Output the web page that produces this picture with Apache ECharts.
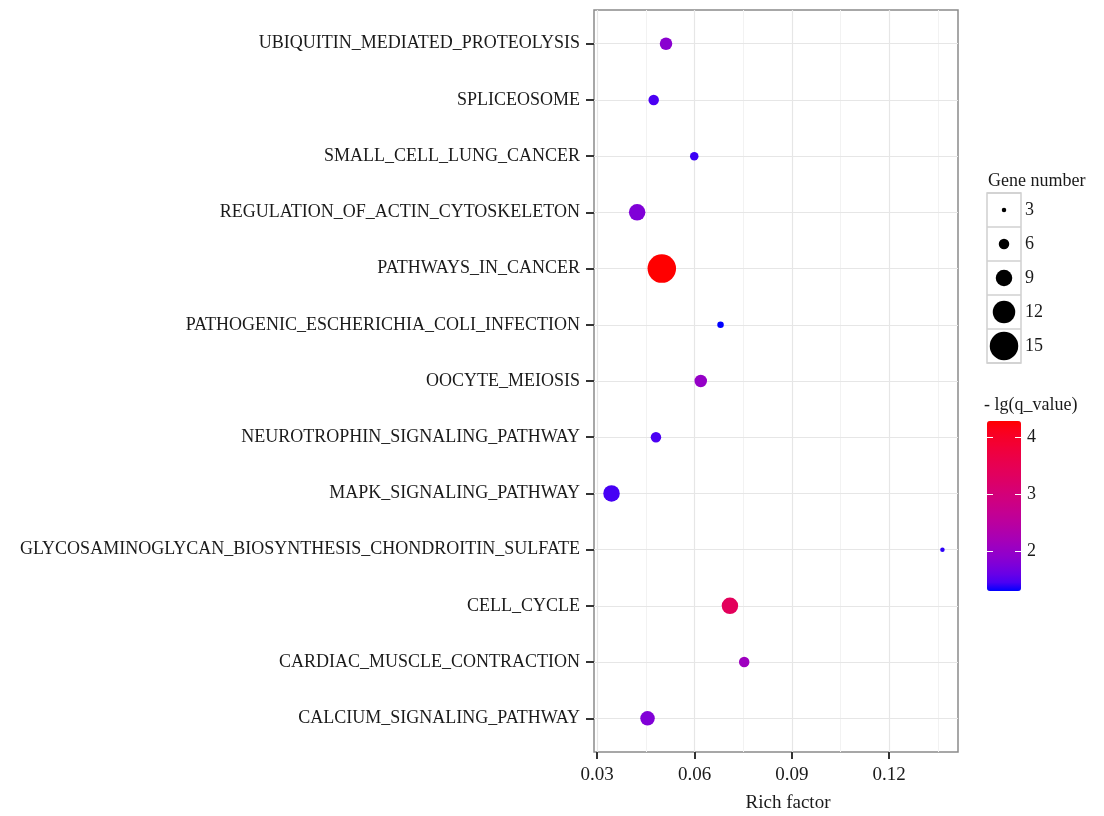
<!DOCTYPE html>
<html><head><meta charset="utf-8">
<script src="https://cdn.jsdelivr.net/npm/echarts@6/dist/echarts.min.js"></script>
<style>html,body{margin:0;padding:0;background:#fff}#c{width:1104px;height:816px}</style>
</head><body><div id="c"></div>
<script>
// ---- data (bottom row first) ----
const categories = [
  'CALCIUM_SIGNALING_PATHWAY',
  'CARDIAC_MUSCLE_CONTRACTION',
  'CELL_CYCLE',
  'GLYCOSAMINOGLYCAN_BIOSYNTHESIS_CHONDROITIN_SULFATE',
  'MAPK_SIGNALING_PATHWAY',
  'NEUROTROPHIN_SIGNALING_PATHWAY',
  'OOCYTE_MEIOSIS',
  'PATHOGENIC_ESCHERICHIA_COLI_INFECTION',
  'PATHWAYS_IN_CANCER',
  'REGULATION_OF_ACTIN_CYTOSKELETON',
  'SMALL_CELL_LUNG_CANCER',
  'SPLICEOSOME',
  'UBIQUITIN_MEDIATED_PROTEOLYSIS'
];
const richFactor = [0.0455, 0.0753, 0.0709, 0.1364, 0.0344, 0.0481, 0.0619, 0.0680, 0.0499, 0.0423, 0.0599, 0.0474, 0.0512];
const geneNumber = [8, 6, 9, 3, 9, 6, 7, 4, 15, 9, 5, 6, 7];
const negLogQ    = [1.80, 2.10, 3.40, 1.40, 1.45, 1.46, 2.00, 1.31, 4.29, 1.79, 1.43, 1.46, 1.88];

const xTicks = [0.03, 0.06, 0.09, 0.12];
const xMinorTicks = [0.045, 0.075, 0.105, 0.135];
const sizeBreaks = [3, 6, 9, 12, 15];
const colorTicks = [2, 3, 4];
const X_MIN = 0.0290, X_MAX = 0.1412;

// ---- helpers (styling) ----
const FONT = 'Liberation Serif';
const TXT = '#1a1a1a';
function sizeOf(n) { return 2 * n - 1.5; }
function s2l(c){c/=255;return c<=0.04045?c/12.92:Math.pow((c+0.055)/1.055,2.4);}
function l2s(c){c=c<=0.0031308?12.92*c:1.055*Math.pow(c,1/2.4)-0.055;return Math.round(Math.max(0,Math.min(1,c))*255);}
function rgb2lab(r,g,b){r=s2l(r);g=s2l(g);b=s2l(b);
  let X=(0.4124*r+0.3576*g+0.1805*b)/0.95047,Y=(0.2126*r+0.7152*g+0.0722*b),Z=(0.0193*r+0.1192*g+0.9505*b)/1.08883;
  const f=t=>t>0.008856?Math.cbrt(t):7.787*t+16/116;
  const fx=f(X),fy=f(Y),fz=f(Z);return [116*fy-16,500*(fx-fy),200*(fy-fz)];}
function lab2rgb(L,a,b){const fy=(L+16)/116,fx=fy+a/500,fz=fy-b/200;
  const fi=t=>t*t*t>0.008856?t*t*t:(t-16/116)/7.787;
  const X=fi(fx)*0.95047,Y=fi(fy),Z=fi(fz)*1.08883;
  const r=3.2406*X-1.5372*Y-0.4986*Z,g=-0.9689*X+1.8758*Y+0.0415*Z,bb=0.0557*X-0.2040*Y+1.0570*Z;
  return 'rgb('+l2s(r)+','+l2s(g)+','+l2s(bb)+')';}
const labLo = rgb2lab(0,0,255), labHi = rgb2lab(255,0,0);
const stops = [];
for (let i = 0; i <= 20; i++) { const t = i/20;
  stops.push(lab2rgb(labLo[0]+(labHi[0]-labLo[0])*t, labLo[1]+(labHi[1]-labLo[1])*t, labLo[2]+(labHi[2]-labLo[2])*t)); }

const qMin = Math.min(...negLogQ), qMax = Math.max(...negLogQ);
const rowIdx = categories.map((c, i) => i + 1);
const points = categories.map((c, i) => [richFactor[i], rowIdx[i], geneNumber[i], negLogQ[i], c]);

const chart = echarts.init(document.getElementById('c'), null, {renderer: 'canvas'});
chart.setOption({
  animation: false,
  backgroundColor: '#fff',
  textStyle: {fontFamily: FONT},
  grid: [
    {left: 594, top: 10, width: 364, height: 742, show: true, borderColor: '#8a8a8a', borderWidth: 1.5, backgroundColor: '#fff', outerBoundsMode: 'none', containLabel: false},
    {left: 594, top: 10, width: 364, height: 742, show: false, outerBoundsMode: 'none', containLabel: false},
    {left: 987, top: 421, width: 34, height: 170, show: false, outerBoundsMode: 'none', containLabel: false},
    {left: 987, top: 193, width: 34, height: 170, show: true, borderColor: '#d0d0d0', borderWidth: 1.5, outerBoundsMode: 'none', containLabel: false}
  ],
  xAxis: [
    {gridIndex: 0, type: 'value', min: X_MIN, max: X_MAX, position: 'bottom',
     name: 'Rich factor', nameLocation: 'middle', nameGap: 42,
     nameTextStyle: {fontFamily: FONT, fontSize: 19, color: TXT, padding: [0, 0, 0, 24]},
     axisLine: {show: false},
     axisTick: {show: true, length: 7, lineStyle: {color: '#333', width: 2}, customValues: xTicks},
     axisLabel: {fontFamily: FONT, fontSize: 19, color: TXT, margin: 14, customValues: xTicks,
                 formatter: v => String(Math.round(v * 100) / 100)},
     splitLine: {show: true, lineStyle: {color: '#e6e6e6', width: 1.2}}, z: 3},
    {gridIndex: 0, type: 'value', min: X_MIN, max: X_MAX, position: 'top',
     axisLine: {show: false}, axisLabel: {show: false, customValues: xMinorTicks},
     axisTick: {show: false, customValues: xMinorTicks},
     splitLine: {show: true, lineStyle: {color: '#f2f2f2', width: 1}}, z: 1},
    {gridIndex: 2, type: 'value', show: false, min: 0, max: 1},
    {gridIndex: 3, type: 'value', show: false, min: -1, max: 1}
  ],
  yAxis: [
    {gridIndex: 0, type: 'value', min: 0.4, max: 13.6,
     axisLine: {show: false},
     axisTick: {show: true, length: 8, lineStyle: {color: '#333', width: 2}, customValues: rowIdx},
     axisLabel: {fontFamily: FONT, fontSize: 18, color: TXT, margin: 14, customValues: rowIdx, padding: [3, 0, 0, 0],
                 formatter: v => categories[Math.round(v) - 1] || ''},
     splitLine: {show: true, lineStyle: {color: '#e6e6e6', width: 1.2}}, z: 3},
    {gridIndex: 2, type: 'value', min: qMin, max: qMax, position: 'left',
     axisLine: {show: false}, splitLine: {show: false},
     axisTick: {show: true, inside: true, length: 6, lineStyle: {color: '#ffffff', width: 1}, customValues: colorTicks},
     axisLabel: {show: false, customValues: colorTicks}, z: 10},
    {gridIndex: 2, type: 'value', min: qMin, max: qMax, position: 'right',
     axisLine: {show: false}, splitLine: {show: false},
     axisTick: {show: true, inside: true, length: 6, lineStyle: {color: '#ffffff', width: 1}, customValues: colorTicks},
     axisLabel: {show: true, fontFamily: FONT, fontSize: 18, color: TXT, margin: 6, customValues: colorTicks}, z: 10},
    {gridIndex: 3, type: 'category', data: sizeBreaks.map(String), inverse: true, position: 'right',
     axisLine: {show: false}, axisTick: {show: false},
     axisLabel: {fontFamily: FONT, fontSize: 18, color: TXT, margin: 4},
     splitLine: {show: true, interval: 0, lineStyle: {color: '#d0d0d0', width: 1.5}}}
  ],
  visualMap: [{
    type: 'continuous', seriesIndex: 0, dimension: 3, min: qMin, max: qMax,
    inRange: {color: stops}, left: 987, top: 421, itemWidth: 34, itemHeight: 170,
    padding: 0, calculable: false, hoverLink: false, orient: 'vertical', showLabel: false, z: 4
  }],
  graphic: [
    {type: 'text', left: 988, top: 172, style: {text: 'Gene number', font: '18px "Liberation Serif"', fill: TXT}},
    {type: 'text', left: 984, top: 396, style: {text: '- lg(q_value)', font: '18px "Liberation Serif"', fill: TXT}}
  ],
  series: [
    {type: 'scatter', xAxisIndex: 0, yAxisIndex: 0, data: points,
     symbolSize: d => sizeOf(d[2]), itemStyle: {opacity: 1}, z: 5},
    {type: 'scatter', xAxisIndex: 3, yAxisIndex: 3,
     data: sizeBreaks.map(b => [0, String(b), b]),
     symbolSize: d => sizeOf(d[2]), itemStyle: {color: '#000', opacity: 1}, z: 5}
  ]
});
</script></body></html>
